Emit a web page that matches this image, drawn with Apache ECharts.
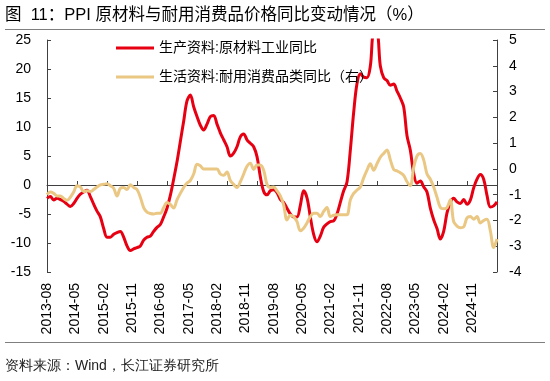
<!DOCTYPE html>
<html>
<head>
<meta charset="utf-8">
<script src="https://cdn.jsdelivr.net/npm/echarts@6/dist/echarts.min.js"></script>
<style>html,body{margin:0;padding:0;background:#fff;}#c{width:550px;height:381px;}</style>
</head>
<body>
<div id="c"></div>
<script>
// monthly categories 2013-08 .. 2024-11
const months = [];
for (let y = 2013, m = 8; y < 2024 || (y === 2024 && m <= 11); ) {
  months.push(y + '-' + String(m).padStart(2, '0'));
  m++; if (m > 12) { m = 1; y++; }
}
const tickLabels = ['2013-08','2014-05','2015-02','2015-11','2016-08','2017-05','2018-02','2018-11',
  '2019-08','2020-05','2021-02','2021-11','2022-08','2023-05','2024-02','2024-11'];

const rawMaterials = [
  -2.3,-2.0,-2.6,-2.3,-2.5,-2.8,-3.3,-3.7,-3.2,-2.3,
  -1.6,-1.2,-0.9,-2.0,-3.3,-4.5,-5.5,-7.5,-9.0,-9.0,
  -8.5,-8.2,-8.0,-9.0,-10.5,-11.3,-11.0,-10.8,-10.5,-9.5,
  -9.0,-8.8,-8.0,-7.3,-6.8,-5.5,-4.0,-1.8,1.0,4.0,
  7.5,11.0,14.5,15.5,13.5,11.8,10.3,9.5,10.5,11.8,
  12.0,10.5,9.0,7.8,6.6,5.0,5.5,6.6,8.3,8.8,
  7.8,7.2,6.6,4.9,1.4,-1.1,-1.7,-1.0,-0.8,-1.3,
  -2.5,-3.0,-4.0,-5.0,-5.5,-5.5,-3.5,-1.0,-2.2,-5.5,
  -8.5,-9.8,-8.8,-7.3,-6.7,-6.3,-6.2,-5.0,-3.0,-1.0,
  0.5,6.0,12.5,17.5,19.2,18.6,18.5,20.5,26.0,26.0,
  20.5,18.5,18.0,17.2,17.4,16.2,15.0,13.5,8.5,6.0,
  2.0,0.3,0.7,-0.3,-1.2,-4.0,-6.0,-7.5,-9.3,-8.0,
  -4.8,-3.0,-2.3,-2.9,-3.2,-2.5,-3.3,-2.6,-0.5,1.0,
  1.8,1.0,-1.8,-3.8,-3.6,-2.9
];
const durables = [
  -1.0,-0.9,-0.95,-1.05,-1.05,-1.15,-1.22,-1.1,-0.9,-0.65,
  -0.7,-0.88,-0.85,-0.88,-0.8,-0.7,-0.62,-0.6,-0.58,-0.65,
  -0.75,-1.05,-0.75,-0.72,-0.8,-0.62,-0.72,-0.8,-1.1,-1.5,
  -1.68,-1.73,-1.75,-1.72,-1.72,-1.5,-1.3,-1.38,-1.52,-1.2,
  -0.95,-0.72,-0.55,-0.45,-0.2,0.18,0.12,0.0,0.0,0.0,
  0.0,0.0,-0.2,-0.25,-0.12,-0.45,-0.6,-0.72,-0.5,-0.2,
  0.1,0.22,-0.02,0.15,0.15,-0.05,-0.6,-0.72,-0.7,-0.85,
  -1.05,-1.4,-1.98,-1.8,-1.85,-2.05,-2.4,-2.3,-2.1,-1.85,
  -1.72,-1.72,-1.85,-1.65,-1.5,-1.85,-1.8,-1.78,-1.78,-1.78,
  -1.78,-1.2,-0.95,-0.82,-0.7,-0.35,-0.05,0.2,-0.05,0.2,
  0.45,0.6,0.73,0.35,-0.02,-0.08,-0.15,-0.25,-0.5,-0.65,
  0.05,0.5,0.6,0.35,-0.2,-0.4,-0.7,-1.1,-1.5,-1.55,
  -1.5,-1.2,-2.05,-2.22,-2.28,-2.25,-1.9,-1.85,-1.95,-1.85,
  -2.1,-2.0,-1.95,-2.4,-3.05,-2.72
];

const FONT = 'Liberation Sans, Arial, Noto Sans CJK SC, sans-serif';
const AX = '#404040';
const chart = echarts.init(document.getElementById('c'), null, {renderer: 'canvas'});
chart.setOption({
  animation: false,
  backgroundColor: '#fff',
  textStyle: {fontFamily: FONT},
  title: {
    text: '图  11：PPI 原材料与耐用消费品价格同比变动情况（%）',
    left: 5, top: 5, padding: [2, 0, 0, 0],
    textStyle: {fontSize: 16.5, fontWeight: 'normal', color: '#000', fontFamily: FONT}
  },
  legend: {
    orient: 'vertical', left: 116, top: 41, itemGap: 15, padding: 0,
    itemWidth: 38, itemHeight: 3, icon: 'rect',
    textStyle: {fontSize: 14, color: '#000', fontFamily: FONT, lineHeight: 14},
    data: ['生产资料:原材料工业同比', '生活资料:耐用消费品类同比（右）']
  },
  graphic: [
    {type: 'line', shape: {x1: 5, y1: 29.5, x2: 545, y2: 29.5}, style: {stroke: '#7f7f7f', lineWidth: 1}},
    {type: 'line', shape: {x1: 5, y1: 342.5, x2: 545, y2: 342.5}, style: {stroke: '#7f7f7f', lineWidth: 1}},
    {type: 'text', left: 5, top: 359, style: {text: '资料来源：Wind，长江证券研究所', fontSize: 14, fill: '#222', font: '14px ' + FONT}}
  ],
  grid: [
    {left: 47, top: 40, width: 450, height: 232},
    {left: 47, top: 40, width: 425, height: 232}
  ],
  xAxis: [
    {
      type: 'category', gridIndex: 0, data: months, boundaryGap: false,
      axisLine: {onZero: true, lineStyle: {color: AX, width: 1}},
      axisTick: {show: true, inside: true, length: 4, interval: 8, lineStyle: {color: AX}},
      axisLabel: {show: false}, splitLine: {show: false}
    },
    {
      type: 'category', gridIndex: 1, data: tickLabels, boundaryGap: false,
      axisLine: {show: false}, axisTick: {show: false}, splitLine: {show: false},
      axisLabel: {show: true, interval: 0, rotate: 90, margin: 11, fontSize: 14, color: '#000', fontFamily: FONT}
    }
  ],
  yAxis: [
    {
      type: 'value', gridIndex: 0, min: -15, max: 25, interval: 5, position: 'left',
      axisLine: {show: true, lineStyle: {color: AX}},
      axisTick: {show: true, inside: true, length: 4, lineStyle: {color: AX}},
      axisLabel: {fontSize: 14, color: '#000', margin: 16, fontFamily: FONT},
      splitLine: {show: false}
    },
    {
      type: 'value', gridIndex: 0, min: -4, max: 5, interval: 1, position: 'right',
      axisLine: {show: true, lineStyle: {color: AX}},
      axisTick: {show: true, inside: true, length: 4, lineStyle: {color: AX}},
      axisLabel: {fontSize: 14, color: '#000', margin: 12, fontFamily: FONT},
      splitLine: {show: false}
    },
    {type: 'value', gridIndex: 1, show: false, min: 0, max: 1}
  ],
  series: [
    {
      name: '生产资料:原材料工业同比', type: 'line', xAxisIndex: 0, yAxisIndex: 0,
      data: rawMaterials, symbol: 'none', smooth: 0.35, clip: true,
      lineStyle: {color: '#E60012', width: 3}, itemStyle: {color: '#E60012'}
    },
    {
      name: '生活资料:耐用消费品类同比（右）', type: 'line', xAxisIndex: 0, yAxisIndex: 1,
      data: durables, symbol: 'none', smooth: 0.35, clip: true,
      lineStyle: {color: '#EAC783', width: 3}, itemStyle: {color: '#EAC783'}
    }
  ]
});
</script>
</body>
</html>
